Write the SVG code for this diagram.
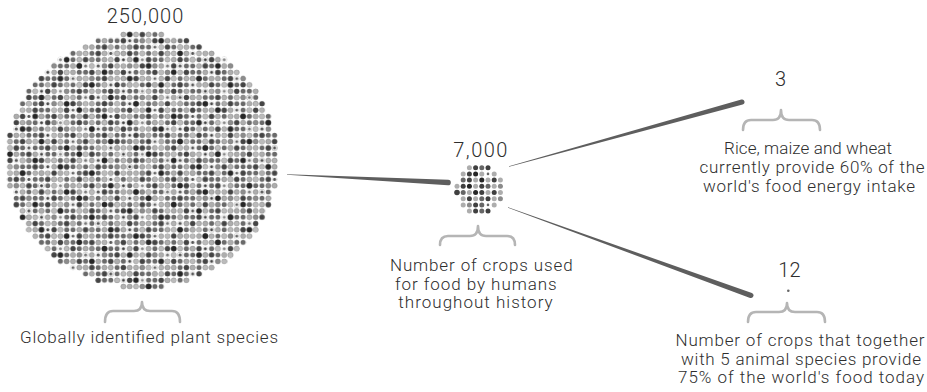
<svg xmlns="http://www.w3.org/2000/svg" xmlns:xlink="http://www.w3.org/1999/xlink" width="927" height="392" viewBox="0 0 927 392">
  <style>
    .num { font-family: Roboto, "Liberation Sans", Arial, sans-serif; font-weight: 300; font-size: 20px; fill: #2e2e2e; text-anchor: middle; }
    .lbl { font-family: Roboto, "Liberation Sans", Arial, sans-serif; font-weight: 300; font-size: 17px; fill: #2e2e2e; text-anchor: middle; }
    .brace { fill: none; stroke: #b5b5b5; stroke-width: 2.6; stroke-linecap: round; stroke-linejoin: round; }
    .wedge { fill: #5e5e5e; }
    .l { fill: #adadad; } .m { fill: #666; } .d { fill: #404040; } .k { fill: #262626; } .g { fill: #8a8a8a; }
  </style>
  <defs>
    <!-- staircase outline of the large dot disc, in grid cells (1 cell = 6.3px) -->
    <path id="disc" d="M18,0 H25 V1 H29 V2 H31 V3 H33 V4 H35 V5 H36 V6 H37 V7 H38 V8 H39 V9 H40 V11 H41 V13 H42 V16 H43 V25 H42 V28 H41 V30 H40 V32 H39 V33 H38 V34 H37 V35 H36 V36 H35 V37 H33 V38 H31 V39 H29 V40 H25 V41 H18 V40 H14 V39 H12 V38 H10 V37 H8 V36 H7 V35 H6 V34 H5 V33 H4 V32 H3 V30 H2 V28 H1 V25 H0 V16 H1 V13 H2 V11 H3 V9 H4 V8 H5 V7 H6 V6 H7 V5 H8 V4 H10 V3 H12 V2 H14 V1 H18 Z"/>
    <!-- base dot layer -->
    <pattern id="pBase" patternUnits="userSpaceOnUse" width="1" height="1">
      <circle cx="0.5" cy="0.5" r="0.4" fill="#6a6a6a"/>
    </pattern>
    <!-- overlay layers with co-prime tile sizes to break up repetition -->
    <pattern id="pG" patternUnits="userSpaceOnUse" width="8" height="3">
      <circle cx="1.5" cy="0.5" r="0.4" fill="#8c8c8c"/>
      <circle cx="5.5" cy="1.5" r="0.4" fill="#8c8c8c"/>
      <circle cx="3.5" cy="2.5" r="0.4" fill="#8c8c8c"/>
      <circle cx="7.5" cy="2.5" r="0.4" fill="#8c8c8c"/>
    </pattern>
    <pattern id="pH" patternUnits="userSpaceOnUse" width="4" height="5">
      <circle cx="2.5" cy="0.5" r="0.4" fill="#b3b3b3"/>
      <circle cx="0.5" cy="2.5" r="0.4" fill="#b3b3b3"/>
      <circle cx="3.5" cy="3.5" r="0.4" fill="#b3b3b3"/>
    </pattern>
    <pattern id="pA" patternUnits="userSpaceOnUse" width="7" height="6">
      <circle cx="0.5" cy="0.5" r="0.4" fill="#adadad"/>
      <circle cx="3.5" cy="0.5" r="0.4" fill="#adadad"/>
      <circle cx="1.5" cy="1.5" r="0.4" fill="#adadad"/>
      <circle cx="4.5" cy="1.5" r="0.4" fill="#adadad"/>
      <circle cx="5.5" cy="1.5" r="0.4" fill="#adadad"/>
      <circle cx="2.5" cy="2.5" r="0.4" fill="#adadad"/>
      <circle cx="6.5" cy="2.5" r="0.4" fill="#adadad"/>
      <circle cx="0.5" cy="3.5" r="0.4" fill="#adadad"/>
      <circle cx="4.5" cy="3.5" r="0.4" fill="#adadad"/>
      <circle cx="1.5" cy="4.5" r="0.4" fill="#adadad"/>
      <circle cx="5.5" cy="4.5" r="0.4" fill="#adadad"/>
      <circle cx="3.5" cy="5.5" r="0.4" fill="#adadad"/>
      <circle cx="6.5" cy="5.5" r="0.4" fill="#adadad"/>
    </pattern>
    <pattern id="pE" patternUnits="userSpaceOnUse" width="9" height="4">
      <circle cx="2.5" cy="0.5" r="0.4" fill="#bbbbbb"/>
      <circle cx="7.5" cy="0.5" r="0.4" fill="#bbbbbb"/>
      <circle cx="4.5" cy="1.5" r="0.4" fill="#bbbbbb"/>
      <circle cx="0.5" cy="2.5" r="0.4" fill="#bbbbbb"/>
      <circle cx="6.5" cy="2.5" r="0.4" fill="#bbbbbb"/>
      <circle cx="3.5" cy="3.5" r="0.4" fill="#bbbbbb"/>
      <circle cx="8.5" cy="3.5" r="0.4" fill="#bbbbbb"/>
    </pattern>
    <pattern id="pB" patternUnits="userSpaceOnUse" width="5" height="9">
      <circle cx="1.5" cy="0.5" r="0.4" fill="#444"/>
      <circle cx="3.5" cy="1.5" r="0.4" fill="#444"/>
      <circle cx="0.5" cy="2.5" r="0.4" fill="#444"/>
      <circle cx="4.5" cy="3.5" r="0.4" fill="#444"/>
      <circle cx="2.5" cy="4.5" r="0.4" fill="#444"/>
      <circle cx="1.5" cy="5.5" r="0.4" fill="#444"/>
      <circle cx="3.5" cy="6.5" r="0.4" fill="#444"/>
      <circle cx="0.5" cy="7.5" r="0.4" fill="#444"/>
      <circle cx="2.5" cy="8.5" r="0.4" fill="#444"/>
    </pattern>
    <pattern id="pC" patternUnits="userSpaceOnUse" width="11" height="7">
      <circle cx="2.5" cy="1.5" r="0.43" fill="#262626"/>
      <circle cx="8.5" cy="0.5" r="0.43" fill="#262626"/>
      <circle cx="5.5" cy="3.5" r="0.43" fill="#262626"/>
      <circle cx="0.5" cy="5.5" r="0.43" fill="#262626"/>
      <circle cx="9.5" cy="4.5" r="0.43" fill="#262626"/>
      <circle cx="4.5" cy="6.5" r="0.43" fill="#262626"/>
    </pattern>
    <pattern id="pD" patternUnits="userSpaceOnUse" width="13" height="5">
      <g fill="#fff">
        <circle cx="1.5" cy="0.5" r="0.48"/>
        <circle cx="12.5" cy="0.5" r="0.48"/>
        <circle cx="6.5" cy="1.5" r="0.48"/>
        <circle cx="10.5" cy="2.5" r="0.48"/>
        <circle cx="3.5" cy="3.5" r="0.48"/>
        <circle cx="8.5" cy="4.5" r="0.48"/>
        <circle cx="5.5" cy="4.5" r="0.48"/>
      </g>
      <circle cx="1.5" cy="0.5" r="0.25" fill="#555"/>
      <circle cx="12.5" cy="0.5" r="0.25" fill="#777"/>
      <circle cx="6.5" cy="1.5" r="0.25" fill="#444"/>
      <circle cx="10.5" cy="2.5" r="0.25" fill="#666"/>
      <circle cx="3.5" cy="3.5" r="0.25" fill="#555"/>
      <circle cx="8.5" cy="4.5" r="0.25" fill="#888"/>
      <circle cx="5.5" cy="4.5" r="0.25" fill="#444"/>
    </pattern>
  </defs>

  <rect width="927" height="392" fill="#fff"/>

  <!-- connectors: tapered wedges -->
  <g id="connectors" class="wedge">
    <path d="M287,174.2 L448.14,179.7 A2.8,2.8 0 0 1 447.86,185.3 L287,174.8 Z"/>
    <path d="M508.9,166.2 L741.33,99.59 A2.5,2.5 0 0 1 742.67,104.41 L509.1,166.8 Z"/>
    <path d="M508.1,207.2 L751.89,293.06 A2.6,2.6 0 0 1 750.11,297.94 L507.9,207.8 Z"/>
  </g>

  <!-- all plant species -->
  <g id="species">
    <text class="num" x="145" y="23" textLength="76.6" lengthAdjust="spacing">250,000</text>
    <g transform="translate(6.85,31.35) scale(6.3)">
      <use xlink:href="#disc" fill="url(#pBase)"/>
      <use xlink:href="#disc" fill="url(#pG)"/>
      <use xlink:href="#disc" fill="url(#pH)"/>
      <use xlink:href="#disc" fill="url(#pA)"/>
      <use xlink:href="#disc" fill="url(#pE)"/>
      <use xlink:href="#disc" fill="url(#pB)"/>
      <use xlink:href="#disc" fill="url(#pC)"/>
      <use xlink:href="#disc" fill="url(#pD)"/>
    </g>
    <path class="brace" d="M105,322 Q105,311 113,311 H134 Q142,311 142,302 Q142,311 150,311 H172 Q180,311 180,322"/>
    <text class="lbl" x="149" y="343" textLength="258" lengthAdjust="spacing">Globally identified plant species</text>
  </g>

  <!-- crops used for food -->
  <g id="crops">
    <text class="num" x="480.3" y="157" textLength="54" lengthAdjust="spacing">7,000</text>
    <g>
      <circle class="l" cx="469.4" cy="167.7" r="2.5"/><circle class="d" cx="475.6" cy="167.7" r="2.5"/><circle class="m" cx="481.8" cy="167.7" r="2.5"/><circle class="d" cx="488" cy="167.7" r="2.5"/>
      <circle class="l" cx="463.2" cy="173.9" r="2.5"/><circle class="d" cx="469.4" cy="173.9" r="2.5"/><circle class="k" cx="475.6" cy="173.9" r="2.5"/><circle class="l" cx="481.8" cy="173.9" r="2.5"/><circle class="m" cx="488" cy="173.9" r="1.3"/><circle class="l" cx="494.2" cy="173.9" r="2.5"/>
      <circle class="m" cx="463.2" cy="180.1" r="2.5"/><circle class="d" cx="469.4" cy="180.1" r="2.5"/><circle class="l" cx="475.6" cy="180.1" r="2.5"/><circle class="k" cx="481.8" cy="180.1" r="2.5"/><circle class="l" cx="488" cy="180.1" r="2.5"/><circle class="d" cx="494.2" cy="180.1" r="2.5"/><circle class="l" cx="500.4" cy="180.1" r="2.5"/>
      <circle class="l" cx="457" cy="186.3" r="2.5"/><circle class="d" cx="463.2" cy="186.3" r="2.5"/><circle class="k" cx="469.4" cy="186.3" r="2.5"/><circle class="l" cx="475.6" cy="186.3" r="2.5"/><circle class="d" cx="481.8" cy="186.3" r="2.5"/><circle class="m" cx="488" cy="186.3" r="2.5"/><circle class="l" cx="494.2" cy="186.3" r="2.5"/><circle class="g" cx="500.4" cy="186.3" r="2.5"/>
      <circle class="d" cx="457" cy="192.5" r="2.8"/><circle class="m" cx="463.2" cy="192.5" r="2.5"/><circle class="l" cx="469.4" cy="192.5" r="2.5"/><circle class="k" cx="475.6" cy="192.5" r="2.5"/><circle class="d" cx="481.8" cy="192.5" r="2.5"/><circle class="l" cx="488" cy="192.5" r="2.5"/><circle class="d" cx="494.2" cy="192.5" r="2.5"/><circle class="l" cx="500.4" cy="192.5" r="2.5"/>
      <circle class="l" cx="463.2" cy="198.7" r="2.5"/><circle class="d" cx="469.4" cy="198.7" r="2.5"/><circle class="l" cx="475.6" cy="198.7" r="2.5"/><circle class="m" cx="481.8" cy="198.7" r="2.5"/><circle class="d" cx="488" cy="198.7" r="2.5"/><circle class="l" cx="494.2" cy="198.7" r="2.5"/><circle class="g" cx="500.4" cy="198.7" r="2.5"/>
      <circle class="l" cx="463.2" cy="204.9" r="2.5"/><circle class="g" cx="469.4" cy="204.9" r="2.5"/><circle class="d" cx="475.6" cy="204.9" r="2.5"/><circle class="m" cx="481.8" cy="204.9" r="2.5"/><circle class="m" cx="488" cy="204.9" r="1.3"/><circle class="l" cx="494.2" cy="204.9" r="2.5"/>
      <circle class="l" cx="469.4" cy="211.1" r="2.5"/><circle class="d" cx="475.6" cy="211.1" r="2.5"/><circle class="m" cx="481.8" cy="211.1" r="2.5"/><circle class="d" cx="488" cy="211.1" r="2.5"/>
    </g>
    <path class="brace" d="M440,245 Q440,236 448,236 H470 Q478,236 478,226 Q478,236 486,236 H507 Q515,236 515,245"/>
    <text class="lbl" x="481.3" y="271" textLength="182.7" lengthAdjust="spacing">Number of crops used</text>
    <text class="lbl" x="475.8" y="289.5" textLength="161.7" lengthAdjust="spacing">for food by humans</text>
    <text class="lbl" x="475.5" y="308" textLength="154.3" lengthAdjust="spacing">throughout history</text>
  </g>

  <!-- three staple crops -->
  <g id="staples">
    <text class="num" x="780.5" y="86">3</text>
    <path class="brace" d="M743,130 Q743,120 751,120 H773 Q781,120 781,110 Q781,120 789,120 H812 Q820,120 820,130"/>
    <text class="lbl" x="808" y="154" textLength="168" lengthAdjust="spacing">Rice, maize and wheat</text>
    <text class="lbl" x="812" y="173" textLength="225" lengthAdjust="spacing">currently provide 60% of the</text>
    <text class="lbl" x="809" y="192" textLength="212" lengthAdjust="spacing">world's food energy intake</text>
  </g>

  <!-- twelve crops -->
  <g id="twelve">
    <text class="num" x="789.5" y="277" textLength="22.4" lengthAdjust="spacing">12</text>
    <circle cx="788.3" cy="290.7" r="1.3" fill="#666"/>
    <path class="brace" d="M748,322 Q748,312 756,312 H779 Q787,312 787,303 Q787,312 795,312 H817 Q825,312 825,322"/>
    <text class="lbl" x="800" y="346" textLength="249" lengthAdjust="spacing">Number of crops that together</text>
    <text class="lbl" x="801" y="364.5" textLength="240" lengthAdjust="spacing">with 5 animal species provide</text>
    <text class="lbl" x="801" y="383" textLength="246" lengthAdjust="spacing">75% of the world's food today</text>
  </g>
</svg>
